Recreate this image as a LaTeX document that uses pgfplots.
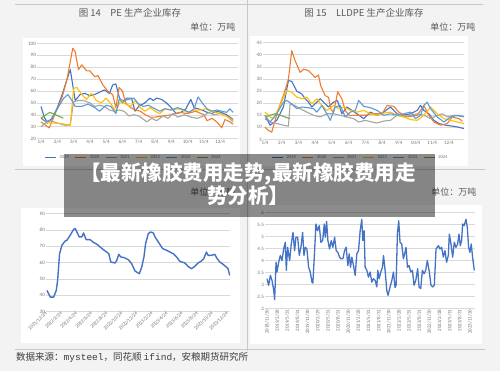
\documentclass[border=0pt]{standalone}
\usepackage{fontspec}
\setmainfont{Carlito}
\newfontfamily\cjk{Noto Sans CJK SC}
\newfontfamily\mono{Liberation Mono}
\usepackage{pgfplots}
\pgfplotsset{compat=1.18}
\definecolor{c19}{RGB}{68,114,196}
\definecolor{c20}{RGB}{237,125,49}
\definecolor{c21}{RGB}{165,165,165}
\definecolor{c22}{RGB}{255,192,0}
\definecolor{c23}{RGB}{91,155,213}
\definecolor{c24}{RGB}{112,173,71}
\definecolor{gridc}{RGB}{217,217,217}
\definecolor{tickc}{RGB}{115,115,115}
\definecolor{titc}{RGB}{89,89,89}
\definecolor{srcc}{RGB}{60,60,60}
\definecolor{bg}{RGB}{243,243,243}
\definecolor{sepc}{RGB}{200,200,200}
\pgfplotsset{
  exl/.style={scale only axis, axis line style={draw=none}, major tick length=0pt,
    ymajorgrids, grid style={draw=gridc, line width=0.5pt},
    tick label style={font=\fontsize{5}{6}\selectfont, text=tickc},
    yticklabel style={inner sep=1pt}, xticklabel style={inner sep=1pt},
    every axis plot/.append style={line width=1.1pt, line join=round}},
  exlleg/.style={legend columns=6, draw=none, fill=none,
    font=\fontsize{4.5}{5}\selectfont, text=tickc,
    /tikz/every even column/.append style={column sep=4pt},
    /tikz/every odd column/.append style={column sep=1pt}},
  legend image code/.code={\draw[#1, line width=1.2pt] (0pt,0pt)--(11pt,0pt);}
}
\begin{document}
\begin{tikzpicture}[x=1pt,y=1pt]
% background
\fill[bg] (0,0) rectangle (500,370);
% panels
\fill[white] (23,205) rectangle (240,333);
\fill[white] (250,205) rectangle (468,335);
\fill[white] (21,28) rectangle (240,163);
\fill[white] (250,27) rectangle (482,166);
% separator lines
\draw[sepc, line width=1pt] (15,366)--(483,366);
\draw[sepc, line width=1pt] (15,201)--(485,201);
\draw[sepc, line width=1pt] (15,21)--(485,21);
\draw[sepc, line width=1pt] (247,370)--(247,20);
% titles
\node[text=titc, font=\cjk\fontsize{9.5}{11}\selectfont] at (130,358) {图 14\quad PE 生产企业库存};
\node[text=titc, font=\cjk\fontsize{9}{11}\selectfont, anchor=east] at (239,343) {单位：万吨};
\node[text=titc, font=\cjk\fontsize{9.5}{11}\selectfont] at (364,358) {图 15\quad LLDPE 生产企业库存};
\node[text=titc, font=\cjk\fontsize{9}{11}\selectfont, anchor=east] at (479,343) {单位：万吨};
\node[text=titc, font=\cjk\fontsize{9}{11}\selectfont, anchor=east] at (239,178) {单位：万吨};
\node[text=titc, font=\cjk\fontsize{9}{11}\selectfont, anchor=east] at (480,178) {单位：万吨};
\node[text=srcc, font=\cjk\fontsize{9.5}{11}\selectfont, anchor=west, inner sep=0pt] at (16,13) {数据来源：{\mono mysteel}，同花顺 {\mono ifind}，安粮期货研究所};

% ---------- PE ----------
\begin{axis}[exl, at={(37pt,232pt)}, anchor=south west, width=201pt, height=95pt,
  xmin=-0.246, xmax=12.1, ymin=20, ymax=100,
  ytick={20,30,...,100}, yticklabels={20,30,40,50,60,70,80,90,100},
  xtick={0,...,11}, xticklabels={1/4,2/4,3/4,4/4,5/4,6/4,7/4,8/4,9/4,10/4,11/4,12/4},
  legend style={exlleg, at={(0.48,-0.2)}, anchor=center}]
\addplot[c19] coordinates {(0,47)(0.2,38)(0.4,33)(0.7,37)(1.0,46)(1.3,57)(1.6,70)(1.8,78)(1.95,65)(2.1,52)(2.4,57)(2.7,58)(3.0,56)(3.3,57)(3.6,59)(3.9,61)(4.2,58)(4.4,65)(4.6,66)(4.8,55)(5.0,50)(5.26,54)(5.56,54)(5.77,43)(6.0,47)(6.38,50)(6.69,54)(6.9,52)(7.1,54)(7.4,53)(7.7,50)(8.0,46)(8.3,41)(8.6,42)(8.9,45)(9.2,53)(9.4,46)(9.65,45)(9.9,44)(10.2,42)(10.47,41)(10.8,43)(11.08,42)(11.4,40)(11.8,36)};
\addlegendentry{2019}
\addplot[c20] coordinates {(0,34)(0.3,31)(0.5,29)(1.0,45)(1.3,55)(1.6,70)(1.8,85)(1.95,96)(2.1,93)(2.3,78)(2.5,82)(2.8,77)(3.0,77)(3.3,72)(3.5,73)(3.8,65)(4.1,60)(4.4,57)(4.6,46)(4.8,63)(5.0,60)(5.2,50)(5.5,46)(5.8,44)(6.1,43)(6.4,40)(6.7,38)(7.0,38)(7.5,39)(8.0,40)(8.5,42)(9.0,41)(9.5,43)(10.0,40)(10.2,35)(10.5,37)(10.8,34)(11.1,29)(11.3,36)(11.6,34)(11.8,32)};
\addlegendentry{2020}
\addplot[c21] coordinates {(0,30)(0.3,33)(0.6,35)(1,33)(1.5,31)(1.8,32)(2.0,51)(2.3,52)(2.6,52)(3.0,50)(3.3,47)(3.6,48)(3.9,47)(4.2,44)(4.5,43)(4.8,44)(5.1,43)(5.4,39)(5.7,40)(6.0,39)(6.3,36)(6.5,34)(6.8,37)(7.1,35)(7.5,39)(7.8,37)(8.1,41)(8.4,38)(8.8,40)(9.2,38)(9.6,37)(10,39)(10.3,42)(10.6,40)(11,41)(11.4,39)(11.8,34)};
\addlegendentry{2021}
\addplot[c22] coordinates {(0,38)(0.3,34)(0.6,33)(1.0,33)(1.5,32)(1.8,31)(2.0,62)(2.2,63)(2.5,57)(2.8,53)(3.1,58)(3.4,52)(3.7,50)(4.0,54)(4.3,49)(4.6,43)(4.9,52)(5.2,49)(5.5,47)(5.8,52)(6.1,46)(6.4,43)(6.7,46)(7.0,43)(7.3,41)(7.6,45)(8.0,44)(8.4,45)(8.7,44)(9.0,42)(9.4,44)(9.8,44)(10.1,45)(10.4,43)(10.8,42)(11.2,40)(11.5,38)(11.8,35)};
\addlegendentry{2022}
\addplot[c23] coordinates {(0,37)(0.3,34)(0.6,36)(1.0,45)(1.4,54)(1.65,57)(1.9,52)(2.1,47)(2.5,47)(2.9,49)(3.3,46)(3.6,43)(4.0,48)(4.3,47)(4.6,41)(4.8,53)(5.1,52)(5.4,53)(5.7,54)(6.0,49)(6.3,47)(6.6,48)(7.0,45)(7.3,43)(7.6,45)(8.0,44)(8.4,46)(8.8,44)(9.1,42)(9.4,45)(9.65,55)(9.9,50)(10.2,45)(10.5,43)(10.8,44)(11.1,43)(11.4,42)(11.6,45)(11.8,42)};
\addlegendentry{2023}
\addplot[c24] coordinates {(0,37)(0.3,40)(0.55,42)(0.9,40)(1.37,37)};
\addlegendentry{2024}
\end{axis}

% ---------- LLDPE ----------
\begin{axis}[exl, at={(263pt,231pt)}, anchor=south west, width=201pt, height=97pt,
  xmin=-0.12, xmax=11.9, ymin=5, ymax=45,
  ytick={5,10,...,45}, yticklabels={5,10,15,20,25,30,35,40,45},
  xtick={0,...,11}, xticklabels={1/4,2/4,3/4,4/4,5/4,6/4,7/4,8/4,9/4,10/4,11/4,12/4},
  legend style={exlleg, at={(0.485,-0.186)}, anchor=center}]
\addplot[c19] coordinates {(0,15)(0.3,10.9)(0.7,12.9)(1.1,18.4)(1.4,29.3)(1.6,29)(1.9,24.9)(2.2,23.8)(2.4,21.8)(2.6,20.4)(2.8,18.4)(3.1,20.4)(3.3,21.8)(3.5,20.4)(3.8,18.4)(4.1,20.4)(4.33,21.1)(4.6,15.6)(4.9,18.4)(5.2,17)(5.5,15.6)(5.9,13.6)(6.3,16.3)(6.7,15)(7.1,16.3)(7.5,18.4)(7.9,15.6)(8.3,15)(8.7,15.6)(9.1,17)(9.3,19.1)(9.5,17)(9.8,15.6)(10.1,12.9)(10.4,11.6)(10.8,10.9)(11.2,10.5)(11.5,10.2)(11.9,9.5)};
\addlegendentry{2019}
\addplot[c20] coordinates {(0,10.1)(0.2,8.7)(0.4,8.0)(0.8,17.6)(1.1,23.1)(1.4,29.9)(1.6,41.6)(1.8,37.5)(2.1,32.7)(2.3,34.0)(2.6,33.4)(2.8,32.0)(3.0,30.6)(3.2,31.6)(3.33,27.2)(3.6,23.1)(3.8,22.4)(3.93,17.6)(4.1,16.2)(4.35,24.7)(4.6,21.7)(4.8,16.9)(5.05,14.9)(5.5,15)(6.0,15)(6.4,15.6)(7.0,15.6)(7.3,19)(7.7,18.7)(8.0,16.3)(8.5,14.3)(9.1,15)(9.5,19)(9.8,15)(10.1,12.2)(10.5,10.9)(10.9,11.6)(11.2,14.3)(11.6,13.6)(11.8,12.6)};
\addlegendentry{2020}
\addplot[c21] coordinates {(0,15)(0.3,12.2)(0.7,11.6)(1.1,10.9)(1.4,10.5)(1.5,19.7)(1.8,19)(2.1,17.7)(2.5,16.3)(2.9,15)(3.3,14.3)(3.7,15.6)(4.1,15.6)(4.5,15)(4.9,14.3)(5.3,13.6)(5.6,12.2)(6.0,12.9)(6.4,12.2)(6.7,11.8)(7.1,12.6)(7.5,12.9)(7.9,15)(8.3,14.3)(8.7,15)(9.1,15.6)(9.5,15)(9.9,13.6)(10.3,15)(10.6,15.6)(10.9,14.3)(11.3,15)(11.9,14.3)};
\addlegendentry{2021}
\addplot[c22] coordinates {(0,16.3)(0.3,14.3)(0.5,13.6)(0.9,19)(1.3,25.2)(1.6,24.5)(1.9,22.5)(2.2,21.8)(2.5,22.5)(2.8,19.7)(3.1,21.8)(3.4,19)(3.7,17)(4.1,19)(4.4,17.7)(4.7,18.4)(5.1,17)(5.5,16.3)(5.9,17)(6.3,15.6)(6.7,15)(7.1,15.9)(7.5,16.3)(7.9,15)(8.3,14.3)(8.7,13.2)(9.1,12.9)(9.5,15)(9.9,18.4)(10.3,15.6)(10.7,13.6)(11.1,12.9)(11.5,12.2)(11.9,11.6)};
\addlegendentry{2022}
\addplot[c23] coordinates {(0,13.6)(0.3,12.2)(0.7,15.6)(1.1,20.4)(1.3,21.1)(1.6,19.7)(1.9,17.7)(2.2,18.4)(2.6,18.1)(2.9,17.7)(3.1,16.3)(3.4,19)(3.7,15.6)(3.9,12.9)(4.2,18.4)(4.5,19)(4.8,14.3)(5.1,16.3)(5.4,17)(5.6,21.1)(5.9,18.7)(6.3,18.1)(6.7,17)(7.1,15)(7.5,15.6)(7.9,15)(8.3,15.6)(8.7,16.3)(9.0,13.6)(9.3,15)(9.5,19.1)(9.7,20.4)(9.9,17.7)(10.3,14.3)(10.7,12.2)(11.1,14.3)(11.5,15)(11.9,14.5)};
\addlegendentry{2023}
\addplot[c24] coordinates {(0,14.3)(0.3,15)(0.6,15.6)(0.9,15)(1.2,14.3)(1.5,13.6)};
\addlegendentry{2024}
\end{axis}

% ---------- bottom left ----------
\begin{axis}[exl, at={(46pt,59pt)}, anchor=south west, width=184pt, height=98pt,
  xmin=-0.13, xmax=24.27, ymin=30, ymax=90,
  ytick={30,40,...,90}, yticklabels={30,40,50,60,70,80,90},
  xtick={0,2,...,24},
  xticklabels={2021/12/24,2022/2/24,2022/4/24,2022/6/24,2022/8/24,2022/10/24,2022/12/24,2023/2/24,2023/4/24,2023/6/24,2023/8/24,2023/10/24,2023/12/24},
  xticklabel style={rotate=45, anchor=east, font=\fontsize{5}{6}\selectfont}]
\addplot[c19, line width=1.4pt] coordinates {(0,42.9)(0.44,38.8)(0.88,38.8)(1.23,42.9)(1.41,49)(1.67,65.4)(1.98,70.5)(2.42,73.2)(2.64,73.6)(3.08,76.7)(3.52,80.2)(3.74,80.8)(3.96,78.7)(4.27,75.7)(4.63,75.7)(4.85,78.1)(5.20,74)(5.73,74)(6.08,72.6)(6.61,71.2)(7.05,69.5)(7.58,67.5)(7.93,66.4)(8.19,65.4)(8.46,60.3)(9.03,59.7)(9.25,61.3)(9.52,65)(9.78,63.4)(10.22,63)(10.79,61.7)(11.23,59.3)(11.67,54.8)(12.25,53.1)(12.56,57.2)(12.86,63.4)(13.08,71.6)(13.44,77.7)(13.74,78.7)(14.10,78.1)(14.32,75.7)(14.76,72.6)(15.33,68.5)(15.86,67.5)(16.30,66.4)(16.74,65.4)(17.18,63.4)(17.62,60.7)(18.28,59.7)(18.72,57.6)(19.16,56.2)(19.60,57.6)(20.04,59.7)(20.48,60.9)(20.79,62.4)(21.15,66.4)(21.37,64.4)(21.81,64.4)(22.25,65)(22.56,62.4)(22.91,60.3)(23.35,58.9)(23.79,57.2)(24.01,56.2)(24.23,52.1)};
\end{axis}

% ---------- bottom right ----------
\begin{axis}[exl, at={(265pt,62pt)}, anchor=south west, width=210pt, height=96pt,
  xmin=-0.2, xmax=20.5, ymin=2, ymax=6,
  ytick={2,2.5,...,6}, yticklabels={2,2.5,3,3.5,4,4.5,5,5.5,6},
  xtick={0,...,20},
  xticklabels={2018/11/30,2019/2/28,2019/5/31,2019/8/31,2019/11/30,2020/2/29,2020/5/31,2020/8/31,2020/11/30,2021/2/28,2021/5/31,2021/8/31,2021/11/30,2022/2/28,2022/5/31,2022/8/31,2022/11/30,2023/2/28,2023/5/31,2023/8/31,2023/11/30},
  xticklabel style={rotate=90, anchor=east, font=\fontsize{5}{6}\selectfont}]
\addplot[c19, line width=1.3pt] coordinates {(0,3.24)(0.16,2.97)(0.33,3.38)(0.49,3.17)(0.66,2.76)(0.75,2.37)(0.89,3.93)(0.98,3.52)(1.15,3.93)(1.31,4.21)(1.48,4.0)(1.64,4.48)(1.80,4.76)(1.90,3.59)(2.03,4.55)(2.23,4.0)(2.39,4.69)(2.56,5.17)(2.72,4.41)(2.85,4.97)(3.02,4.97)(3.18,4.21)(3.34,4.55)(3.51,5.17)(3.64,4.21)(3.77,4.55)(3.93,4.48)(4.10,3.72)(4.26,3.52)(4.43,3.1)(4.52,3.06)(4.69,4.41)(4.82,5.52)(4.98,5.24)(5.15,5.45)(5.31,4.76)(5.48,4.83)(5.64,5.52)(5.74,4.97)(5.87,5.63)(6.0,4.83)(6.16,4.48)(6.33,4.83)(6.49,4.55)(6.66,4.97)(6.82,4.41)(6.98,4.34)(7.15,4.14)(7.31,4.07)(7.48,4.07)(7.64,4.41)(7.80,4.55)(7.97,3.79)(8.10,4.28)(8.23,3.72)(8.36,4.14)(8.52,3.79)(8.69,3.38)(8.85,4.28)(9.02,4.41)(9.18,5.24)(9.34,5.72)(9.44,4.83)(9.57,5.24)(9.67,3.72)(9.84,3.59)(10.0,3.31)(10.16,3.52)(10.33,3.1)(10.49,3.24)(10.66,3.17)(10.82,2.9)(10.92,3.59)(11.05,3.24)(11.21,3.52)(11.38,3.72)(11.48,4.21)(11.64,3.59)(11.80,2.76)(11.93,2.55)(12.13,2.9)(12.30,3.17)(12.46,3.52)(12.62,2.87)(12.72,2.97)(12.85,5.1)(12.98,5.66)(13.11,4.76)(13.28,4.69)(13.44,4.07)(13.57,4.28)(13.70,4.55)(13.84,3.72)(14.0,3.79)(14.16,3.52)(14.33,3.59)(14.49,2.97)(14.66,3.17)(14.85,3.66)(14.98,2.9)(15.15,2.83)(15.31,3.59)(15.48,3.45)(15.64,3.59)(15.80,4.0)(16.0,3.52)(16.16,2.97)(16.33,2.9)(16.49,2.97)(16.66,4.48)(16.89,4.62)(17.05,4.48)(17.21,4.55)(17.38,4.14)(17.54,4.41)(17.70,3.93)(17.87,4.21)(17.97,5.1)(18.13,4.69)(18.30,4.14)(18.46,4.76)(18.62,4.55)(18.79,4.69)(18.92,5.1)(19.05,4.62)(19.18,4.83)(19.28,5.52)(19.44,5.45)(19.61,5.72)(19.74,5.38)(19.87,4.55)(20.0,4.34)(20.13,4.69)(20.26,4.14)(20.43,3.59)};
\end{axis}

% ---------- banner ----------
\fill[black, opacity=0.45] (64,154) rectangle (435,217);
\node[text=white, align=center, font=\cjk\bfseries\fontsize{20.5}{23}\selectfont] at (248,186) {【最新橡胶费用走势,最新橡胶费用走\\势分析】};
\end{tikzpicture}
\end{document}
